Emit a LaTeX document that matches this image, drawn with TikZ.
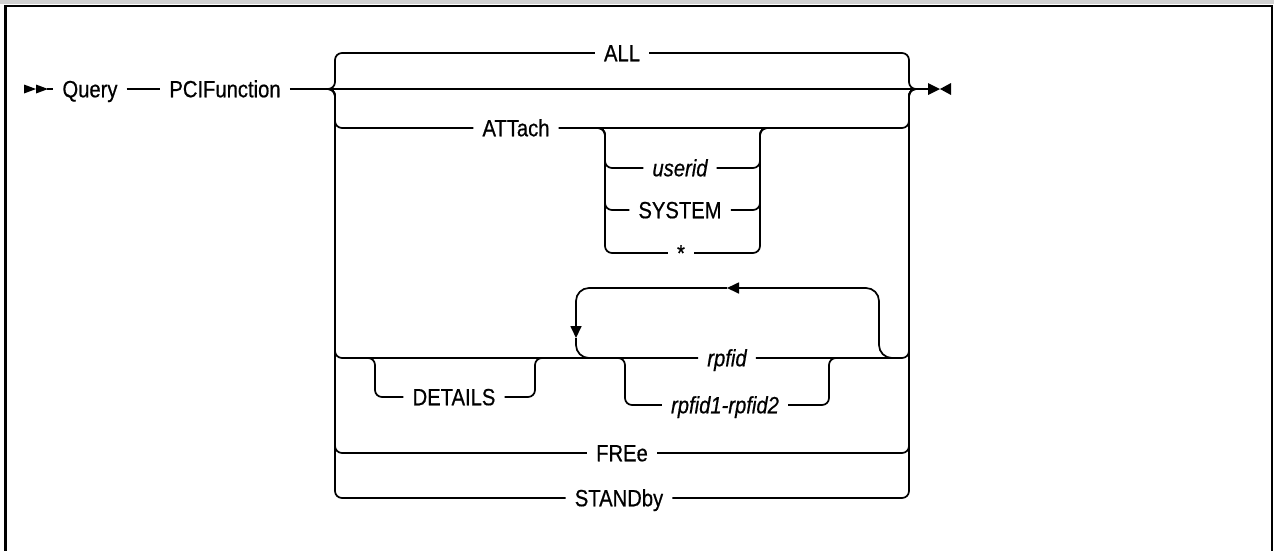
\documentclass[tikz,border=0pt]{standalone}
\usepackage{fontspec}
\setmainfont{Liberation Sans}[FakeStretch=0.86,FakeBold=0.6]
\usetikzlibrary{arrows.meta}
\begin{document}
\begin{tikzpicture}[x=1pt,y=-1pt,
  ln/.style={line width=1.7pt},
  rc/.style={ln, rounded corners=7pt},
  lbl/.style={inner xsep=9pt, inner ysep=0pt, text height=16.5pt, text depth=0pt, font=\fontsize{23.5}{27}\selectfont},
  ilbl/.style={lbl, font=\fontsize{23.5}{27}\selectfont\itshape},
  tipA/.style={-{Triangle[length=12pt,width=11pt]}},
]
\useasboundingbox (0,0) rectangle (1274,550);
% frame
\fill[black!18] (0,0) rectangle (1274,4);
\draw[line width=2.3pt] (5.5,600) -- (5.5,6.2) -- (1272,6.2) -- (1272,600);

% coordinates
\coordinate (st) at (47,89);
\coordinate (jl) at (327,89);
\coordinate (jr) at (917,89);
\coordinate (endm) at (928,89);
\coordinate (gl) at (598,128);
\coordinate (gr) at (767,128);
\coordinate (dl) at (368,358);
\coordinate (dr) at (542,358);
\coordinate (rl) at (618,358);
\coordinate (rrr) at (836,358);
\coordinate (lpR) at (893,358);
\coordinate (lpT) at (727,288);
\coordinate (lpA) at (576,338);
\coordinate (lpL) at (590,358);

% nodes
\node[lbl] (q) at (90,89) {Query};
\node[lbl] (p) at (225,89) {PCIFunction};
\node[lbl] (all) at (622,53) {ALL};
\node[lbl] (att) at (516,128) {ATTach};
\node[ilbl] (u) at (680,168) {userid};
\node[lbl] (sys) at (680,210) {SYSTEM};
\node[lbl] (star) at (681,253) {*};
\node[ilbl] (rp) at (727,358) {rpfid};
\node[lbl] (det) at (454,397) {DETAILS};
\node[ilbl] (rr) at (725,405) {rpfid1-rpfid2};
\node[lbl] (fre) at (622,453) {FREe};
\node[lbl] (stb) at (619,498) {STANDby};

% start and end markers
\fill (24,84.5) -- (36,89) -- (24,93.5) -- cycle;
\fill (36,84.5) -- (48,89) -- (36,93.5) -- cycle;
\fill (928,83) -- (940,89) -- (928,95) -- cycle;
\fill (951,83) -- (940,89) -- (951,95) -- cycle;

% main line
\draw[ln] (st) -- (q.west);
\draw[ln] (q.east) -- (p.west);
\draw[ln] (p.east) -- (endm);

% ALL (default, above)
\draw[rc] (jl) -| (335,53) -- (all.west);
\draw[rc] (all.east) -| (909,89) -- (jr);

% ATTach
\draw[rc] (jl) -| (335,128) -- (att.west);
\draw[rc] (att.east) -| (909,89) -- (jr);
\draw[rc] (gl) -| (605,168) -- (u.west);
\draw[rc] (u.east) -| (760,128) -- (gr);
\draw[rc] (gl) -| (605,210) -- (sys.west);
\draw[rc] (sys.east) -| (760,128) -- (gr);
\draw[rc] (gl) -| (605,253) -- (star.west);
\draw[rc] (star.east) -| (760,128) -- (gr);

% DETAILS / rpfid row
\draw[rc] (jl) -| (335,358) -- (rp.west);
\draw[rc] (rp.east) -| (909,89) -- (jr);
\draw[rc] (dl) -| (375,397) -- (det.west);
\draw[rc] (det.east) -| (535,358) -- (dr);
\draw[rc] (rl) -| (625,405) -- (rr.west);
\draw[rc] (rr.east) -| (829,358) -- (rrr);
% repeat loop
\draw[ln, rounded corners=13pt, tipA] (lpR) -| (879,288) -- (lpT);
\draw[ln, rounded corners=13pt, tipA] (lpT) -| (lpA);
\draw[ln, rounded corners=13pt] (lpA) |- (lpL);

% FREe, STANDby
\draw[rc] (jl) -| (335,453) -- (fre.west);
\draw[rc] (fre.east) -| (909,89) -- (jr);
\draw[rc] (jl) -| (335,498) -- (stb.west);
\draw[rc] (stb.east) -| (909,89) -- (jr);
\end{tikzpicture}
\end{document}
